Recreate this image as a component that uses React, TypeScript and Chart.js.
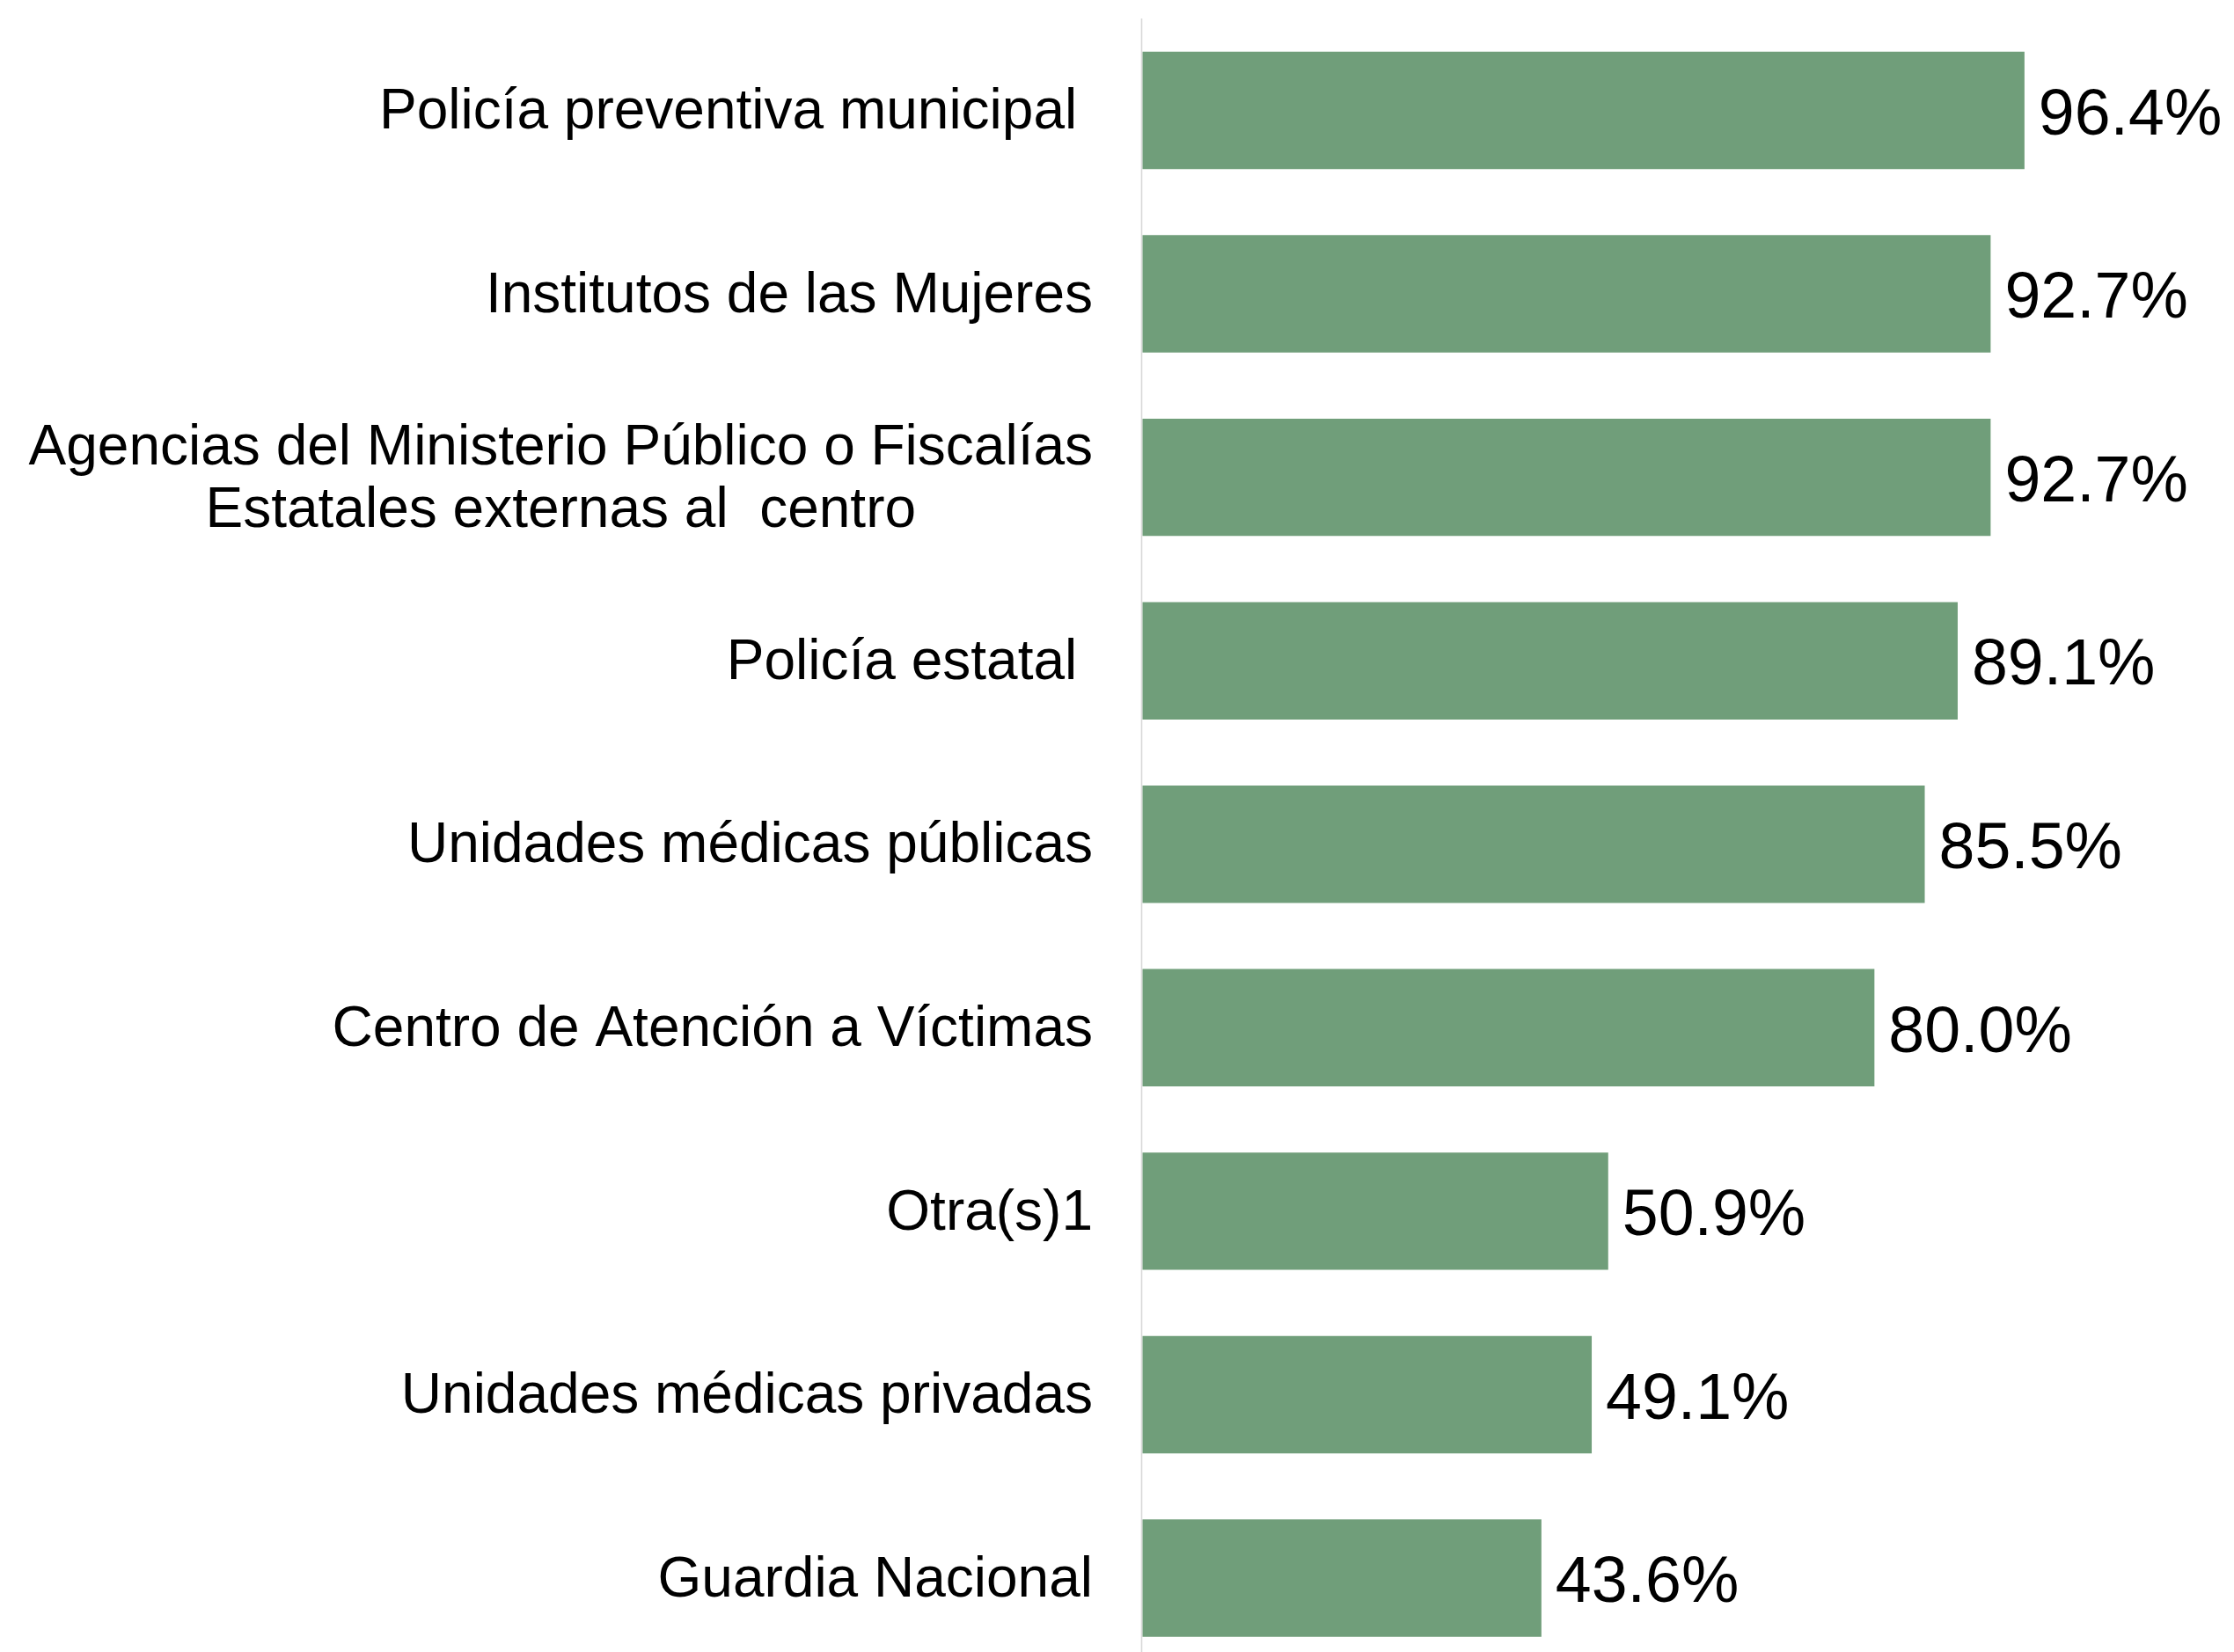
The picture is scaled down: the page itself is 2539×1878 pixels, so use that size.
import React, { useEffect, useRef } from 'react';
import { Chart, registerables } from 'chart.js';

Chart.register(...registerables);

const categories: (string | string[])[] = [
  'Policía preventiva municipal ',
  'Institutos de las Mujeres',
  ['Agencias del Ministerio Público o Fiscalías', 'Estatales externas al  centro'],
  'Policía estatal ',
  'Unidades médicas públicas',
  'Centro de Atención a Víctimas',
  'Otra(s)1',
  'Unidades médicas privadas',
  'Guardia Nacional',
];

const values: number[] = [96.4, 92.7, 92.7, 89.1, 85.5, 80.0, 50.9, 49.1, 43.6];

const FONT = '"Liberation Sans", Arial, Helvetica, sans-serif';
const BAR_COLOR = '#709e7a';

export default function App() {
  const ref = useRef<HTMLCanvasElement>(null);

  useEffect(() => {
    const canvas = ref.current;
    if (!canvas) return;

    const labelPlugin = {
      id: 'customLabels',
      beforeDatasetsDraw(chart: any) {
        const ctx = chart.ctx;
        const xs = chart.scales.x;
        const x0 = xs.getPixelForValue(0) - 1;
        ctx.save();
        ctx.strokeStyle = '#d9d9d9';
        ctx.lineWidth = 1.6;
        ctx.beginPath();
        ctx.moveTo(x0, 21);
        ctx.lineTo(x0, chart.height);
        ctx.stroke();
        ctx.restore();
      },
      afterDatasetsDraw(chart: any) {
        const ctx = chart.ctx;
        const xs = chart.scales.x;
        const ys = chart.scales.y;
        ctx.save();
        // category labels
        ctx.fillStyle = '#000000';
        ctx.font = `64px ${FONT}`;
        ctx.textBaseline = 'middle';
        const rightEdge = 1242;
        const lineH = 71;
        categories.forEach((lab, i) => {
          const y = ys.getPixelForValue(i) + 3;
          const lines = Array.isArray(lab) ? lab : [lab];
          const maxW = Math.max(...lines.map((l) => ctx.measureText(l).width));
          const cx = rightEdge - maxW / 2;
          ctx.textAlign = 'center';
          lines.forEach((l, j) => {
            const ly = y + (j - (lines.length - 1) / 2) * lineH;
            ctx.fillText(l, cx, ly);
          });
        });
        // value labels
        ctx.font = `73.5px ${FONT}`;
        ctx.textAlign = 'left';
        values.forEach((v, i) => {
          const y = ys.getPixelForValue(i);
          const x = xs.getPixelForValue(v) + 16;
          ctx.fillText(v.toFixed(1) + '%', x, y + 7);
        });
        ctx.restore();
      },
    };

    const chart = new Chart(canvas, {
      type: 'bar',
      data: {
        labels: categories,
        datasets: [
          {
            data: values,
            backgroundColor: BAR_COLOR,
            borderWidth: 0,
            categoryPercentage: 1,
            barPercentage: 0.64,
            clip: false,
          },
        ],
      },
      options: {
        indexAxis: 'y',
        responsive: false,
        maintainAspectRatio: false,
        animation: false,
        clip: false,
        layout: { padding: { left: 1298.5, right: 200.7, top: 125.5, bottom: 84 } },
        scales: {
          x: { display: false, min: 0, max: 100 },
          y: { display: false, offset: false },
        },
        plugins: {
          legend: { display: false },
          tooltip: { enabled: false },
        },
      } as any,
      plugins: [labelPlugin],
    });

    return () => chart.destroy();
  }, []);

  return (
    <div style={{ position: 'fixed', left: 0, top: 0, width: 2539, height: 1878, background: '#ffffff', overflow: 'hidden' }}>
      <canvas ref={ref} width={2539} height={1878} style={{ width: 2539, height: 1878, display: 'block' }} />
    </div>
  );
}
